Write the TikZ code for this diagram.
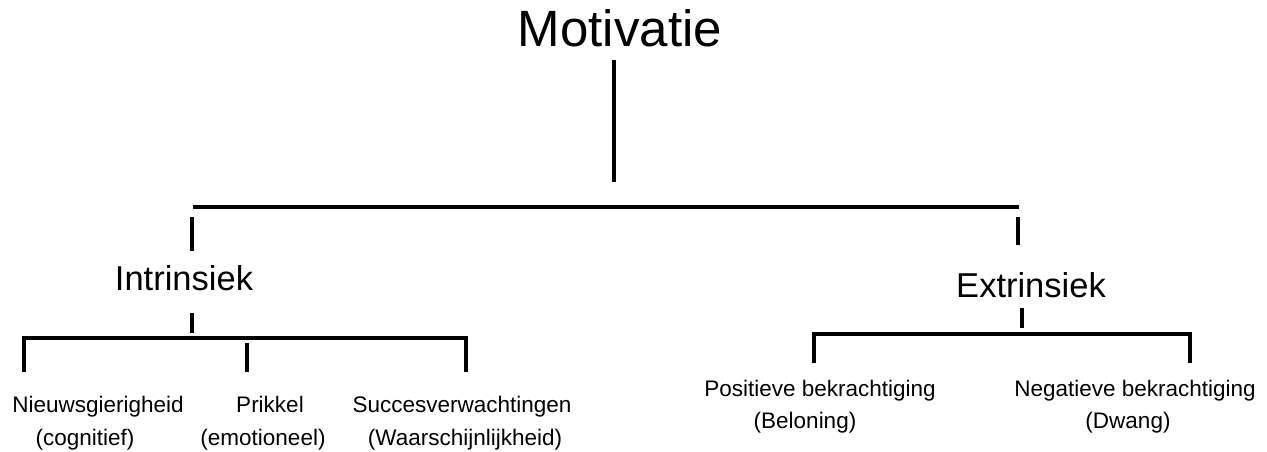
\documentclass[tikz,border=0pt]{standalone}
\usepackage{fontspec}
\setmainfont{Liberation Sans}
\begin{document}
\begin{tikzpicture}[x=1pt,y=-1pt,
  lbl/.style={inner sep=0pt,anchor=base},
  big/.style={lbl,font=\fontsize{51}{60}\selectfont},
  mid/.style={lbl,font=\fontsize{34.5}{40}\selectfont},
  small/.style={lbl,font=\fontsize{22.5}{27}\selectfont},
  ln/.style={line width=3.2pt,line cap=butt,line join=miter}]
\useasboundingbox (0,0) rectangle (1267,452);
% texts
\node[big] (mot) at (620,47) {Motivatie};
\node[mid] (intr) at (184,290) {Intrinsiek};
\node[mid] (extr) at (1031,297) {Extrinsiek};
\node[small] (nw) at (98,412) {Nieuwsgierigheid};
\node[small] (nwb) at (85,445) {(cognitief)};
\node[small] (pr) at (270,412) {Prikkel};
\node[small] (prb) at (263,445) {(emotioneel)};
\node[small] (sv) at (462,412) {Succesverwachtingen};
\node[small] (svb) at (465,445) {(Waarschijnlijkheid)};
\node[small] (pb) at (820,396) {Positieve bekrachtiging};
\node[small] (pbb) at (805,428) {(Beloning)};
\node[small] (nb) at (1135,396) {Negatieve bekrachtiging};
\node[small] (nbb) at (1128,428) {(Dwang)};
% coordinates
\coordinate (t1) at (614,60);
\coordinate (t2) at (614,182);
\coordinate (hL) at (193,207);
\coordinate (hR) at (1019,207);
\coordinate (dL1) at (192,217);
\coordinate (dL2) at (192,251);
\coordinate (dR1) at (1018,217);
\coordinate (dR2) at (1018,245);
\coordinate (iA) at (192,313);
\coordinate (iB) at (192,333);
\coordinate (iL) at (24,372);
\coordinate (iR) at (466,372);
\coordinate (iH) at (24,338);
\coordinate (iH2) at (466,338);
\coordinate (iM1) at (247,343);
\coordinate (iM2) at (247,372);
\coordinate (eA) at (1022,308);
\coordinate (eB) at (1022,328);
\coordinate (eL) at (814,363);
\coordinate (eR) at (1190,363);
\coordinate (eH) at (814,334);
\coordinate (eH2) at (1190,334);
% connectors
\draw[ln] (t1) -- (t2);
\draw[ln] (hL) -- (hR);
\draw[ln] (dL1) -- (dL2);
\draw[ln] (dR1) -- (dR2);
\draw[ln] (iA) -- (iB);
\draw[ln] (iL) -- (iH) -- (iH2) -- (iR);
\draw[ln] (iM1) -- (iM2);
\draw[ln] (eA) -- (eB);
\draw[ln] (eL) -- (eH) -- (eH2) -- (eR);
\end{tikzpicture}
\end{document}
